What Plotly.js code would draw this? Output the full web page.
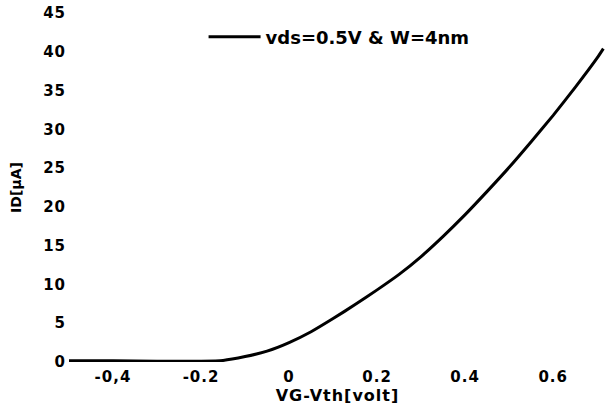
<!DOCTYPE html>
<html>
<head>
<meta charset="utf-8">
<script src="https://cdn.plot.ly/plotly-3.0.1.min.js"></script>
<style>
  html, body { margin: 0; padding: 0; background: #fff; }
  #chart { width: 613px; height: 409px; }
  /* wide, evenly tracked lettering for the axis labels */
  #chart .xtick text, #chart .ytick text { letter-spacing: 1px; }
  #chart .xtitle { letter-spacing: 1px; }
</style>
</head>
<body>
<div id="chart"></div>
<script>
// Gate overdrive (V) and drain current (µA) for Vds = 0.5 V, W = 4 nm
const overdrive = [-0.5, -0.4, -0.3, -0.2, -0.15, -0.1, -0.05, 0, 0.05, 0.1, 0.15,
                   0.2, 0.25, 0.3, 0.35, 0.4, 0.45, 0.5, 0.55, 0.6, 0.65, 0.7, 0.714];
const drainCurrent = [0.15, 0.15, 0.1, 0.1, 0.2, 0.7, 1.4, 2.5, 3.9, 5.6, 7.4,
                      9.3, 11.3, 13.6, 16.2, 19.0, 22.0, 25.1, 28.4, 31.8, 35.4, 39.2, 40.4];
const seriesName = 'vds=0.5V & W=4nm';
const xTicks = [-0.4, -0.2, 0, 0.2, 0.4, 0.6];
const xTickText = ['-0,4', '-0.2', '0', '0.2', '0.4', '0.6'];
const yTicks = [0, 5, 10, 15, 20, 25, 30, 35, 40, 45];

const fontFamily = 'DejaVu Sans, Verdana, sans-serif';

const trace = {
  x: overdrive,
  y: drainCurrent,
  name: seriesName,
  type: 'scatter',
  mode: 'lines',
  line: { color: '#000', width: 3, shape: 'spline', smoothing: 0.5 },
  cliponaxis: false
};

const layout = {
  width: 613,
  height: 409,
  margin: { l: 69, r: 7, t: 13, b: 47 },
  paper_bgcolor: '#fff',
  plot_bgcolor: '#fff',
  showlegend: true,
  legend: {
    x: 0.2506, y: 0.984, xanchor: 'left', yanchor: 'top',
    bgcolor: 'rgba(0,0,0,0)',
    itemwidth: 52,
    font: { family: fontFamily, size: 18, color: '#000', weight: 'bold' }
  },
  xaxis: {
    range: [-0.5, 0.72],
    tickvals: xTicks,
    ticktext: xTickText,
    showgrid: false, zeroline: false, showline: false, ticks: '',
    ticklabelstandoff: 4,
    tickfont: { family: fontFamily, size: 15, color: '#000', weight: 'bold' },
    title: { text: 'VG-Vth[volt]', standoff: 0,
             font: { family: fontFamily, size: 16, color: '#000', weight: 'bold' } }
  },
  yaxis: {
    range: [0, 45],
    tickvals: yTicks,
    showgrid: false, zeroline: false, showline: false, ticks: '',
    ticklabelstandoff: 2,
    tickfont: { family: fontFamily, size: 15, color: '#000', weight: 'bold' },
    title: { text: 'ID[µA]', standoff: 20,
             font: { family: fontFamily, size: 14, color: '#000', weight: 'bold' } }
  }
};

Plotly.newPlot('chart', [trace], layout, { displayModeBar: false, staticPlot: true });
</script>
</body>
</html>
